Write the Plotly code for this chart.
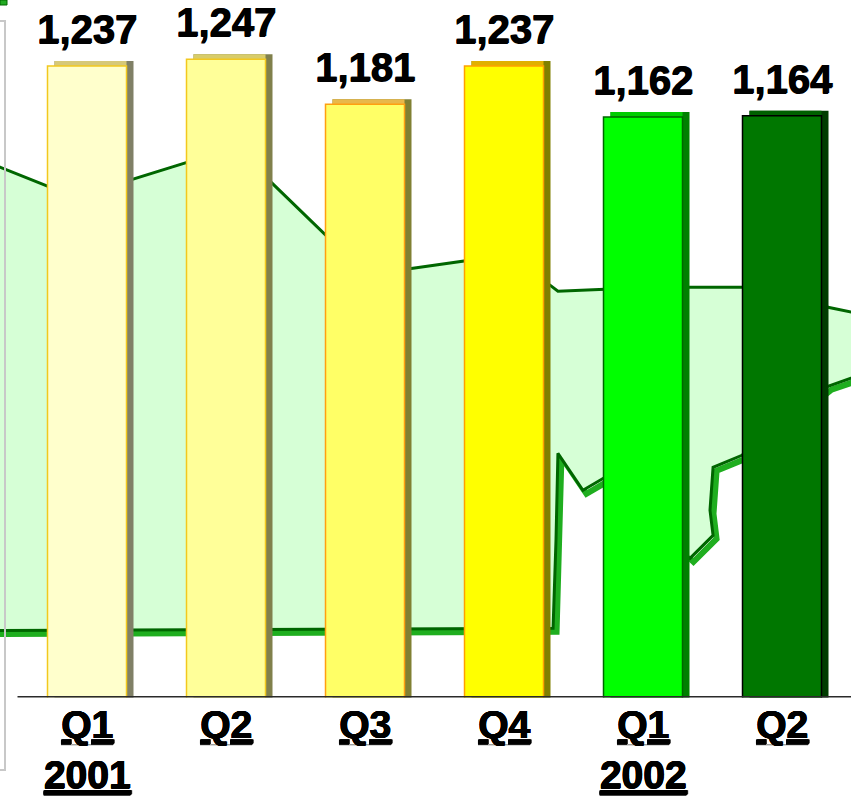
import plotly.graph_objects as go

# ---------------- data ----------------
quarters = ["Q1", "Q2", "Q3", "Q4", "Q1", "Q2"]
years = ["2001", "", "", "", "2002", ""]
values = [1237, 1247, 1181, 1237, 1162, 1164]
value_labels = ["1,237", "1,247", "1,181", "1,237", "1,162", "1,164"]

front_colors = ["#FFFFCC", "#FFFF99", "#FFFF66", "#FFFF00", "#00FF00", "#007700"]
edge_colors = ["#F2C81E", "#F2C81E", "#FF9F10", "#FFA000", "#006600", "#000000"]
side_colors = ["#808066", "#80804C", "#808033", "#808000", "#008000", "#003C00"]
top_colors = ["#D6C878", "#D8CC6A", "#E8B84A", "#E0B000", "#00CC00", "#006000"]

# decorative background area (in chart units)
bg_top_x = [-0.70, -0.626, -0.086, 0.705, 1.072, 1.331, 1.727, 2.007, 2.345, 2.705,
            3.007, 3.331, 3.388, 3.727, 4.338, 4.712, 5.129, 5.331, 5.496, 5.60]
bg_top_y = [1090, 1088.5, 1044.4, 1094.4, 1117.9, 1065.0, 987.0, 931.2, 940.0, 950.3,
            959.1, 915.0, 906.2, 909.1, 912.0, 912.0, 904.7, 882.6, 875.3, 871]
bg_bot_x = [-0.70, -0.626, 3.353, 3.374, 3.388, 3.568, 3.727, 4.338, 4.504, 4.482,
            4.504, 4.712, 5.331, 5.496, 5.60]
bg_bot_y = [407.6, 407.6, 410.6, 540.0, 667.9, 613.5, 632.6, 513.5, 547.3, 584.1,
            647.3, 665.0, 766.4, 778.2, 783]

ticktext = [f"{q}<br>{y}" if y else q for q, y in zip(quarters, years)]
xs = list(range(len(values)))

Y_MIN, Y_MAX = 309, 1334.1
PX_PER_X = 139.0
PX_PER_Y = 0.68
W = 79 / PX_PER_X
DX = 7 / PX_PER_X
DY = 5 / PX_PER_Y
FONT = "Arial, Liberation Sans, sans-serif"
HEAVY = "0.8px 0 0 #000, 0 0.8px 0 #000"

fig = go.Figure()

# background area: shadow of bottom edge
fig.add_trace(go.Scatter(
    x=[v + 3.5 / PX_PER_X for v in bg_bot_x], y=[v - 3.5 / PX_PER_Y for v in bg_bot_y],
    mode="lines", line=dict(color="#1FAE1F", width=6), hoverinfo="skip",
    showlegend=False, zorder=-3))
# fill
fig.add_trace(go.Scatter(
    x=bg_top_x + bg_bot_x[::-1], y=bg_top_y + bg_bot_y[::-1],
    fill="toself", fillcolor="#D6FFD6", mode="none", hoverinfo="skip",
    showlegend=False, zorder=-2))
fig.add_trace(go.Scatter(
    x=bg_top_x, y=bg_top_y, mode="lines", line=dict(color="#006600", width=3),
    hoverinfo="skip", showlegend=False, zorder=-1))
fig.add_trace(go.Scatter(
    x=bg_bot_x, y=bg_bot_y, mode="lines", line=dict(color="#006600", width=3),
    hoverinfo="skip", showlegend=False, zorder=-1))

# 3D bars: side (back) face
fig.add_trace(go.Bar(
    x=xs, y=[v + DY for v in values], width=W, offset=-W / 2 + DX,
    marker=dict(color=side_colors, line=dict(width=0)), hoverinfo="skip",
    showlegend=False, zorder=1))
# top face
fig.add_trace(go.Bar(
    x=xs, y=[DY] * len(values), base=values, width=W - DX, offset=-W / 2 + DX,
    marker=dict(color=top_colors, line=dict(width=0)), hoverinfo="skip",
    showlegend=False, zorder=2))
# front face
fig.add_trace(go.Bar(
    x=xs, y=values, width=W, offset=-W / 2,
    marker=dict(color=front_colors, line=dict(color=edge_colors, width=1.5)),
    hoverinfo="skip", showlegend=False, zorder=3))

for x, v, t in zip(xs, values, value_labels):
    fig.add_annotation(x=x, y=v, text=t, showarrow=False, yanchor="middle", yshift=37,
                       font=dict(family=FONT, size=40, color="#000000", weight="bold",
                                 shadow=HEAVY))

# baseline
fig.add_shape(type="line", x0=-0.5, x1=5.5, y0=Y_MIN, y1=Y_MIN, xref="x", yref="y",
              line=dict(color="#2A2A2A", width=3), layer="above")
# partial frame at left
fig.add_shape(type="path", xref="paper", yref="paper",
              path=f"M 0,{1-21/800} L {5/851},{1-21/800} L {5/851},{1-770/800} L 0,{1-770/800}",
              line=dict(color="#C8C8C8", width=2), layer="above")
fig.add_shape(type="rect", xref="paper", yref="paper",
              x0=0, x1=7 / 851, y0=1 - 5 / 800, y1=1,
              fillcolor="#22AA22", line=dict(color="#006600", width=1), layer="above")

fig.update_layout(
    width=851, height=800,
    margin=dict(l=0, r=0, t=0, b=0),
    paper_bgcolor="white", plot_bgcolor="white",
    barmode="overlay",
    xaxis=dict(range=[-87 / PX_PER_X, (851 - 87) / PX_PER_X], domain=[0, 1],
               tickvals=xs, ticktext=ticktext, showgrid=False, zeroline=False,
               showline=False, ticks="",
               tickfont=dict(family=FONT, size=39, color="#000000", weight="bold",
                             lineposition="under", shadow=HEAVY)),
    yaxis=dict(range=[Y_MIN, Y_MAX], domain=[1 - 697.5 / 800, 1], visible=False,
               showgrid=False, zeroline=False),
)

fig.write_html("out.html")
